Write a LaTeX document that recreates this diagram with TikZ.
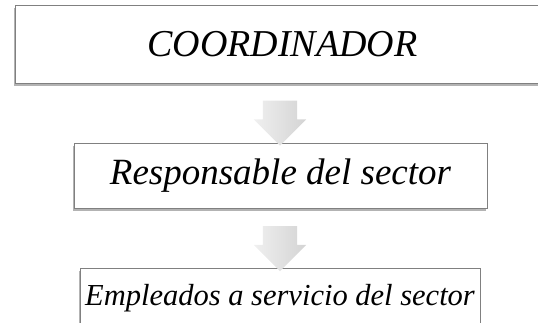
\documentclass[tikz,border=0pt]{standalone}
\usepackage{fontspec}
\setmainfont{Liberation Serif}
\usetikzlibrary{shapes.arrows,shadows}

\tikzset{
  orgbox/.style={draw=black!50, line width=1pt, fill=white, inner sep=0pt,
    drop shadow={shadow xshift=-1.2pt, shadow yshift=-2.5pt, opacity=0.6}},
  downarrow/.style={single arrow, rotate=-90, draw=none, inner xsep=0pt, inner ysep=17pt,
    single arrow head extend=9pt, single arrow head indent=0pt,
    minimum height=45pt,
    left color=black!6, right color=black!17}
}

\begin{document}
\begin{tikzpicture}[x=1pt,y=-1pt]
  \useasboundingbox (0,0) rectangle (538,322);
  \clip (0,0) rectangle (538,322);
  % boxes
  \node [orgbox, minimum width=535pt, minimum height=78pt] (coord) at (282.5,44)
    {\fontsize{38}{40}\selectfont\itshape COORDINADOR};
  \node [orgbox, minimum width=413pt, minimum height=65pt] (resp) at (280.5,175.5)
    {\fontsize{37}{40}\selectfont\itshape Responsable del sector};
  \node [orgbox, minimum width=400pt, text height=37pt, text depth=29pt] (empl) at (280,301)
    {\fontsize{30.5}{32}\selectfont\itshape Empleados a servicio del sector};
  % arrows
  \node [downarrow] (arr1) at (280,114.5) {};
  \node [downarrow] (arr2) at (280,240) {};
\end{tikzpicture}
\end{document}
